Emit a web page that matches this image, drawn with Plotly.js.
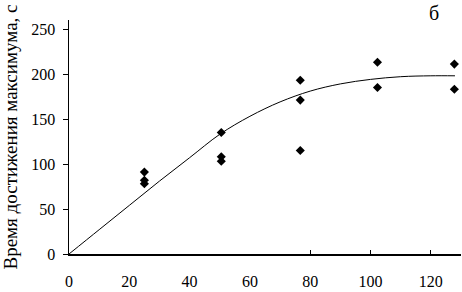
<!DOCTYPE html>
<html>
<head>
<meta charset="utf-8">
<script src="https://cdn.plot.ly/plotly-3.0.1.min.js"></script>
<style>html,body{margin:0;padding:0;background:#fff;}</style>
</head>
<body>
<div id="chart" style="width:462px;height:292px;"></div>
<script>
// Measured points
const pointsX = [25, 25, 25, 50.5, 50.5, 50.5, 76.7, 76.7, 76.7, 102.3, 102.3, 127.8, 127.8];
const pointsY = [91, 82, 78, 135, 108, 103, 193, 171, 115, 213, 185, 211, 183];
// Fitted curve
const curveX = [0, 10, 20, 30, 40, 50, 60, 70, 80, 90, 100, 110, 120, 128];
const curveY = [0, 27, 54, 81, 107, 133, 153, 169, 181, 189, 194, 197, 198, 198];
// Ticks
const xTicks = [0, 20, 40, 60, 80, 100, 120];
const xInnerTicks = [80, 100, 120];
const yTicks = [0, 50, 100, 150, 200, 250];
const yTitle = "Время достижения максимума, с";
const panelLabel = "б";

const fam = "'Times New Roman', 'Liberation Serif', 'DejaVu Serif', serif";
const font = {family: fam, color: "#000", size: 16};

const traces = [
  {x: curveX, y: curveY, mode: "lines", line: {color: "#000", width: 1, shape: "spline"}, hoverinfo: "skip"},
  {x: pointsX, y: pointsY, mode: "markers", marker: {symbol: "diamond", size: 7, color: "#000"}},
  {x: [0], y: [0], xaxis: "x2", mode: "markers", marker: {opacity: 0}, hoverinfo: "skip"}
];

const layout = {
  width: 462, height: 292,
  margin: {l: 69, r: 1, t: 20, b: 38, pad: 0},
  paper_bgcolor: "#fff", plot_bgcolor: "#fff",
  showlegend: false,
  font: font,
  xaxis: {
    range: [0, 130], tickvals: xTicks, ticks: "", showgrid: false, zeroline: false,
    showline: true, linecolor: "#000", linewidth: 1.5, tickfont: font, fixedrange: true,
    ticklabelstandoff: 12
  },
  xaxis2: {
    overlaying: "x", matches: "x", range: [0, 130], tickvals: xInnerTicks, ticks: "inside", ticklen: 4,
    tickcolor: "#000", tickwidth: 1, showticklabels: false, showgrid: false, zeroline: false, showline: false
  },
  yaxis: {
    range: [0, 260], tickvals: yTicks, ticks: "outside", ticklen: 5, tickcolor: "#000", tickwidth: 1,
    showgrid: false, zeroline: false, showline: true, linecolor: "#000", linewidth: 1.5,
    tickfont: font, ticklabelstandoff: 4,
    title: {text: yTitle, font: {family: fam, size: 19, color: "#000"}, standoff: 9}
  },
  annotations: [{
    text: panelLabel, xref: "paper", yref: "paper", x: 0.93, y: 1.03, showarrow: false,
    font: {family: fam, size: 20, color: "#000"}, xanchor: "center", yanchor: "middle"
  }]
};

Plotly.newPlot("chart", traces, layout, {staticPlot: true, displayModeBar: false});
</script>
</body>
</html>
